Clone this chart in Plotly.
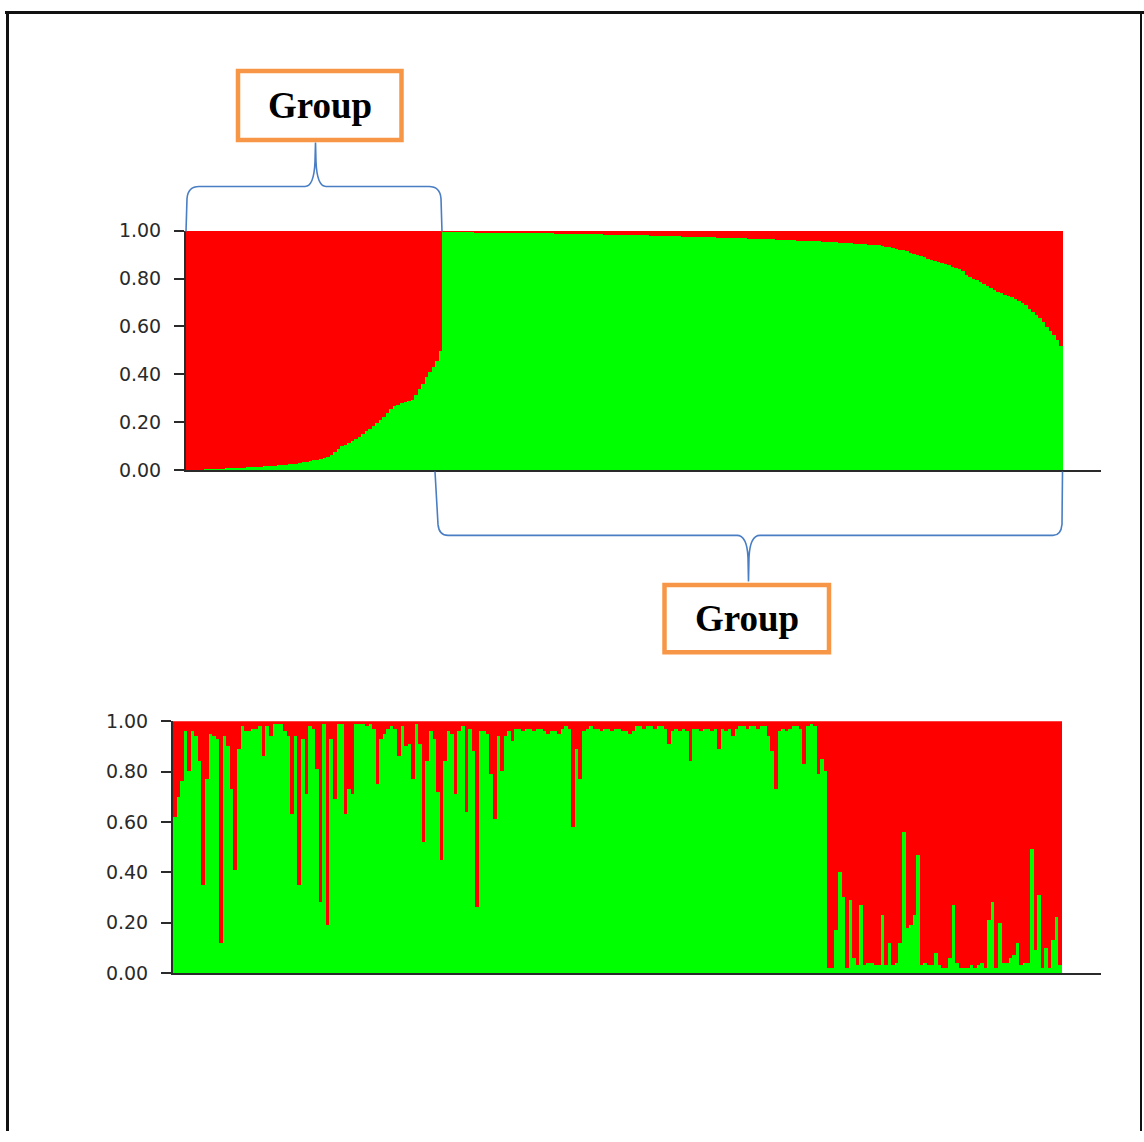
import plotly.graph_objects as go

W, H = 1144, 1142

# ---------------- data ----------------
tick_vals = [0.0, 0.2, 0.4, 0.6, 0.8, 1.0]
tick_text = ["0.00", "0.20", "0.40", "0.60", "0.80", "1.00"]
group_label = "Group"

# Top panel (sorted by cluster): green membership per individual
top_group1_green = [
    0.003, 0.004, 0.004, 0.005, 0.005, 0.006, 0.006, 0.007, 0.007, 0.008,
    0.009, 0.010, 0.011, 0.012, 0.012, 0.013, 0.014, 0.015, 0.016, 0.017,
    0.018, 0.018, 0.019, 0.020, 0.021, 0.022, 0.023, 0.024, 0.026, 0.027,
    0.029, 0.030, 0.032, 0.035, 0.038, 0.041, 0.044, 0.047, 0.051, 0.055,
    0.059, 0.066, 0.078, 0.092, 0.102, 0.110, 0.118, 0.126, 0.133, 0.141,
    0.152, 0.165, 0.176, 0.188, 0.199, 0.211, 0.226, 0.243, 0.258, 0.271,
    0.276, 0.282, 0.288, 0.292, 0.297, 0.318, 0.340, 0.362, 0.390, 0.412,
    0.434, 0.458, 0.500,
]
top_group2_green = [
    0.999, 0.999, 0.998, 0.998, 0.998, 0.997, 0.997, 0.996, 0.996,
    0.994, 0.994, 0.994, 0.993, 0.993, 0.993, 0.993, 0.993, 0.992, 0.992,
    0.992, 0.992, 0.991, 0.991, 0.991, 0.991, 0.991, 0.990, 0.990, 0.990,
    0.990, 0.990, 0.990, 0.989, 0.989, 0.989, 0.989, 0.989, 0.989, 0.988,
    0.988, 0.988, 0.988, 0.988, 0.988,
    0.986, 0.986, 0.985, 0.985, 0.985, 0.984, 0.984, 0.984, 0.984, 0.983,
    0.983, 0.983, 0.982, 0.982, 0.982, 0.981,
    0.980, 0.980, 0.979, 0.979, 0.979, 0.978, 0.978, 0.978, 0.977, 0.977,
    0.977, 0.976, 0.976, 0.976, 0.975, 0.975, 0.974, 0.974,
    0.972, 0.972, 0.971, 0.971, 0.970, 0.970, 0.970, 0.969, 0.969, 0.968,
    0.968, 0.967, 0.967, 0.966, 0.966, 0.965, 0.965, 0.964, 0.964, 0.963,
    0.963, 0.962, 0.962,
    0.960, 0.960, 0.959, 0.959, 0.958, 0.957, 0.957, 0.956, 0.955, 0.955,
    0.954, 0.953,
    0.951, 0.950, 0.949, 0.948, 0.947, 0.946, 0.945, 0.944, 0.943, 0.942,
    0.941, 0.940, 0.938,
    0.935, 0.932, 0.928, 0.925, 0.922, 0.919, 0.915,
    0.908, 0.903, 0.899, 0.895, 0.890,
    0.882, 0.878, 0.874, 0.870, 0.866, 0.861, 0.857, 0.852, 0.847, 0.841,
    0.835,
    0.815, 0.807, 0.801, 0.795, 0.789, 0.778, 0.770, 0.762, 0.755,
    0.745, 0.740, 0.735, 0.730, 0.724, 0.715, 0.708, 0.700, 0.690,
    0.675, 0.662, 0.650, 0.636, 0.620,
    0.600, 0.585, 0.565, 0.545, 0.520,
]

# Bottom panel (original sample order): green membership per individual
bottom_green = [
    0.62, 0.70, 0.76, 0.96, 0.80, 0.96, 0.94, 0.84, 0.35, 0.77,
    0.95, 0.94, 0.93, 0.12, 0.94, 0.90, 0.73, 0.41, 0.89, 0.98,
    0.96, 0.96, 0.97, 0.97, 0.98, 0.86, 0.98, 0.94, 0.99, 0.99,
    0.99, 0.96, 0.94, 0.63, 0.94, 0.35, 0.93, 0.71, 0.98, 0.97,
    0.81, 0.28, 0.99, 0.19, 0.93, 0.69, 0.99, 0.99, 0.63, 0.73,
    0.71, 0.99, 0.99, 0.99, 0.98, 0.99, 0.97, 0.75, 0.93, 0.95,
    0.97, 0.98, 0.97, 0.86, 0.98, 0.90, 0.91, 0.77, 0.99, 0.91,
    0.52, 0.84, 0.96, 0.93, 0.72, 0.45, 0.84, 0.96, 0.95, 0.71,
    0.96, 0.98, 0.64, 0.97, 0.88, 0.26, 0.96, 0.96, 0.95, 0.79,
    0.61, 0.94, 0.80, 0.94, 0.96, 0.92, 0.97, 0.97, 0.96, 0.97,
    0.97, 0.96, 0.97, 0.97, 0.96, 0.95, 0.96, 0.96, 0.95, 0.97,
    0.98, 0.97, 0.58, 0.89, 0.77, 0.96, 0.97, 0.98, 0.97, 0.97,
    0.96, 0.97, 0.97, 0.96, 0.97, 0.97, 0.96, 0.96, 0.95, 0.96,
    0.98, 0.98, 0.97, 0.98, 0.98, 0.97, 0.98, 0.98, 0.97, 0.91,
    0.96, 0.97, 0.96, 0.97, 0.96, 0.84, 0.97, 0.97, 0.96, 0.97,
    0.97, 0.96, 0.97, 0.89, 0.97, 0.96, 0.97, 0.94, 0.97, 0.98,
    0.98, 0.97, 0.98, 0.98, 0.97, 0.98, 0.98, 0.94, 0.88, 0.73,
    0.96, 0.97, 0.96, 0.97, 0.98, 0.98, 0.97, 0.83, 0.98, 0.99,
    0.98, 0.79, 0.85, 0.80,
    0.02, 0.02, 0.17, 0.40, 0.30, 0.02, 0.29, 0.06, 0.03, 0.27,
    0.03, 0.04, 0.04, 0.03, 0.03, 0.23, 0.03, 0.12, 0.03, 0.04,
    0.12, 0.56, 0.18, 0.19, 0.23, 0.47, 0.03, 0.04, 0.03, 0.03,
    0.08, 0.03, 0.02, 0.02, 0.06, 0.27, 0.04, 0.02, 0.02, 0.02,
    0.03, 0.02, 0.03, 0.04, 0.02, 0.21, 0.28, 0.02, 0.20, 0.04,
    0.04, 0.06, 0.07, 0.12, 0.03, 0.04, 0.04, 0.49, 0.09, 0.31,
    0.02, 0.10, 0.02, 0.13, 0.22, 0.03,
]

GREEN = "#00FF00"
RED = "#FF0000"
AXIS = "#2A2A2A"
BRACE = "#4A7EC4"
ORANGE = "#F79646"

top_green = top_group1_green + top_group2_green
top_red = [1 - v for v in top_green]
bottom_red = [1 - v for v in bottom_green]
top_x = list(range(len(top_green)))
bot_x = list(range(len(bottom_green)))

# vertical correction measured from the photographed page
Y_OFF, Y_SCALE = 11.35, 0.9812


def fx(px):
    return px / W


def fy(py):
    return 1 - ((py - Y_OFF) / Y_SCALE) / H


fig = go.Figure()
for xs, g, r, xa, ya in [(top_x, top_green, top_red, "x", "y"),
                         (bot_x, bottom_green, bottom_red, "x2", "y2")]:
    fig.add_trace(go.Bar(x=xs, y=g, marker=dict(color=GREEN, line=dict(width=0)),
                         xaxis=xa, yaxis=ya, hoverinfo="skip"))
    fig.add_trace(go.Bar(x=xs, y=r, marker=dict(color=RED, line=dict(width=0)),
                         xaxis=xa, yaxis=ya, hoverinfo="skip"))

# pixel layout of plot areas
top_left, top_barright, top_axisright, top_y1, top_y0 = 186, 1063, 1101, 231, 471
bot_left, bot_barright, bot_axisright, bot_y1, bot_y0 = 173, 1062, 1101, 722, 974

nt, nb = len(top_green), len(bottom_green)
top_span = (top_axisright - top_left) / ((top_barright - top_left) / nt)
bot_span = (bot_axisright - bot_left) / ((bot_barright - bot_left) / nb)

xcommon = dict(showline=True, linecolor=AXIS, linewidth=2, showticklabels=False,
               ticks="", showgrid=False, zeroline=False, fixedrange=True)
ycommon = dict(showline=True, linecolor=AXIS, linewidth=2, ticks="outside", ticklen=10,
               tickwidth=1.5, tickcolor=AXIS, tickvals=tick_vals, ticktext=tick_text,
               tickfont=dict(family="DejaVu Sans", size=19, color=AXIS),
               showgrid=False, zeroline=False, range=[0, 1], fixedrange=True,
               ticklabelstandoff=9)

fig.update_layout(
    width=W, height=H, margin=dict(l=0, r=0, t=0, b=0),
    paper_bgcolor="white", plot_bgcolor="white",
    barmode="stack", bargap=0, showlegend=False,
    xaxis=dict(domain=[fx(top_left), fx(top_axisright)], range=[-0.5, -0.5 + top_span],
               anchor="y", **xcommon),
    yaxis=dict(domain=[fy(top_y0), fy(top_y1)], anchor="x", **ycommon),
    xaxis2=dict(domain=[fx(bot_left), fx(bot_axisright)], range=[-0.5, -0.5 + bot_span],
                anchor="y2", **xcommon),
    yaxis2=dict(domain=[fy(bot_y0), fy(bot_y1)], anchor="x2", **ycommon),
)


def path(cmds):
    out = []
    for c in cmds:
        if isinstance(c, str):
            out.append(c)
        else:
            out.append(f"{fx(c[0]):.5f},{fy(c[1]):.5f}")
    return " ".join(out)


shapes = []
# top brace
top_brace = path(["M", (186, 232), "L", (187, 199), "Q", (188, 187), (199, 187),
                  "L", (305, 187), "Q", (314, 187), (315, 162), "L", (315.5, 143),
                  "L", (316, 162), "Q", (317, 187), (326, 187), "L", (429, 187),
                  "Q", (440, 187), (441, 199), "L", (442, 232)])
bottom_brace = path(["M", (435, 472), "L", (438, 525), "Q", (439, 536), (448, 536),
                     "L", (737, 536), "Q", (747, 536), (748, 558), "L", (748.5, 582),
                     "L", (749, 558), "Q", (750, 536), (760, 536), "L", (1053, 536),
                     "Q", (1061, 536), (1062, 525), "L", (1062.5, 472)])
for p in (top_brace, bottom_brace):
    shapes.append(dict(type="path", path=p, xref="paper", yref="paper",
                       line=dict(color=BRACE, width=1.6)))

# group boxes
for (x0, y0, x1, y1) in [(238, 71.5, 401.5, 140.5), (664.5, 585.5, 829, 653)]:
    shapes.append(dict(type="rect", xref="paper", yref="paper",
                       x0=fx(x0), x1=fx(x1), y0=fy(y1), y1=fy(y0),
                       line=dict(color=ORANGE, width=4.5), fillcolor="white"))

# outer frame
top_line_y = 1 - 1.5 / H
shapes.append(dict(type="line", xref="paper", yref="paper", x0=fx(5), x1=fx(1144),
                   y0=top_line_y, y1=top_line_y, line=dict(color="#111111", width=3)))
shapes.append(dict(type="line", xref="paper", yref="paper", x0=fx(7.5), x1=fx(7.5),
                   y0=top_line_y, y1=0, line=dict(color="#111111", width=3)))
shapes.append(dict(type="line", xref="paper", yref="paper", x0=fx(1141), x1=fx(1141),
                   y0=top_line_y, y1=0, line=dict(color="#111111", width=2)))
fig.update_layout(shapes=shapes)

for (cx, cy) in [(319.5, 106), (746.5, 619)]:
    fig.add_annotation(x=fx(cx), y=fy(cy), xref="paper", yref="paper",
                       text=f"<b>{group_label}</b>", showarrow=False,
                       xanchor="center", yanchor="middle",
                       font=dict(family="Liberation Serif", size=37, color="black"))

fig.write_html(
    "out.html",
    config={"displayModeBar": False},
    post_script=(
        "document.body.style.margin='0';"
        "document.body.style.overflow='hidden';"
        "document.documentElement.style.overflow='hidden';"
        "var d=document.getElementById('{plot_id}');"
        "d.style.position='fixed';d.style.top='0px';d.style.left='0px';"
    ),
)
